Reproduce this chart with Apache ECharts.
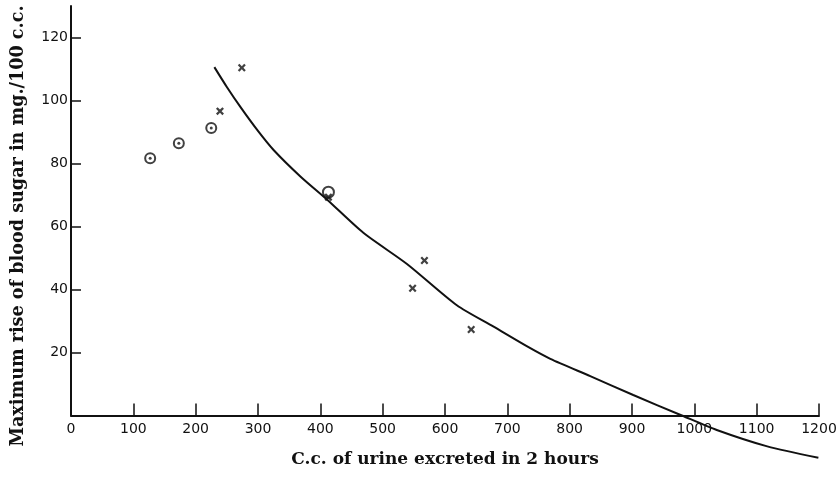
<!DOCTYPE html>
<html>
<head>
<meta charset="utf-8">
<script src="https://cdn.jsdelivr.net/npm/echarts@6/dist/echarts.min.js"></script>
<style>html,body{margin:0;padding:0;background:#fff}#c{width:840px;height:494px}</style>
</head>
<body>
<div id="c"></div>
<script>
// Data
const dottedCircles = [[127, 81.7], [173, 86.4], [225, 91.3]];
const openCircles = [[413, 70.9]];
const crosses = [[239, 96.6], [274, 110.4], [413, 69.3], [567, 49.2], [548, 40.4], [642, 27.3]];
const curve = [
  [230, 110.6], [250, 104.3], [272, 97.9], [299, 90.6], [325, 84.3], [368, 75.9],
  [411, 68.5], [469, 58.0], [539, 48.1], [619, 35.0], [678, 28.2], [734, 21.7],
  [769, 18.0], [833, 12.5], [902, 6.5], [980, 0], [1036, -4.6], [1117, -9.8], [1199, -13.4]
];
const xLabels = [0, 100, 200, 300, 400, 500, 600, 700, 800, 900, 1000, 1100, 1200];
const xTicks = [100, 200, 300, 400, 500, 600, 700, 800, 900, 1000, 1100, 1200];
const yTicks = [20, 40, 60, 80, 100, 120];
const xTitle = 'C.c. of urine excreted in 2 hours';
const yTitle = 'Maximum rise of blood sugar in mg./100 c.c.';

const crossPath = 'path://M2,0L5,3L8,0L10,2L7,5L10,8L8,10L5,7L2,10L0,8L3,5L0,2Z';
const chart = echarts.init(document.getElementById('c'));
const tickFont = { fontFamily: 'DejaVu Sans', fontSize: 14, color: '#111' };
const titleFont = { fontFamily: 'DejaVu Serif', fontWeight: 'bold', fill: '#111' };
chart.setOption({
  animation: false,
  backgroundColor: '#fff',
  grid: { left: 71, right: 21, top: 6, bottom: 78.5, outerBoundsMode: 'none', containLabel: false },
  xAxis: {
    type: 'value', min: 0, max: 1200, interval: 100,
    splitLine: { show: false },
    axisLine: { lineStyle: { color: '#111', width: 2 } },
    axisTick: { inside: true, length: 12, customValues: xTicks, lineStyle: { color: '#111', width: 1.5 } },
    axisLabel: Object.assign({ customValues: xLabels, margin: 7, formatter: v => String(v) }, tickFont)
  },
  yAxis: {
    type: 'value', min: 0, max: 130, interval: 10,
    splitLine: { show: false },
    axisLine: { show: true, lineStyle: { color: '#111', width: 2 } },
    axisTick: { show: true, inside: true, length: 10, customValues: yTicks, lineStyle: { color: '#111', width: 1.5 } },
    axisLabel: Object.assign({ customValues: yTicks, margin: 3, formatter: v => String(v) }, tickFont)
  },
  graphic: [
    { type: 'text', x: 445, y: 460, style: Object.assign({ text: xTitle, fontSize: 17, textAlign: 'center', textVerticalAlign: 'middle' }, titleFont) },
    { type: 'text', x: 18, y: 226, rotation: Math.PI / 2, style: Object.assign({ text: yTitle, fontSize: 17.6, textAlign: 'center', textVerticalAlign: 'middle' }, titleFont) }
  ],
  series: [
    {
      type: 'line', data: curve, smooth: 0.25, showSymbol: false, clip: false,
      lineStyle: { color: '#111', width: 2 }
    },
    {
      type: 'scatter', data: dottedCircles, symbol: 'circle', symbolSize: 10,
      itemStyle: { color: '#fff', borderColor: '#111', borderWidth: 2 }
    },
    {
      type: 'scatter', data: dottedCircles, symbol: 'circle', symbolSize: 3,
      itemStyle: { color: '#111' }
    },
    {
      type: 'scatter', data: openCircles, symbol: 'circle', symbolSize: 11,
      itemStyle: { color: 'rgba(255,255,255,0)', borderColor: '#111', borderWidth: 2 }
    },
    {
      type: 'scatter', data: crosses, symbol: crossPath, symbolSize: 8,
      itemStyle: { color: '#111' }
    }
  ]
});
</script>
</body>
</html>
